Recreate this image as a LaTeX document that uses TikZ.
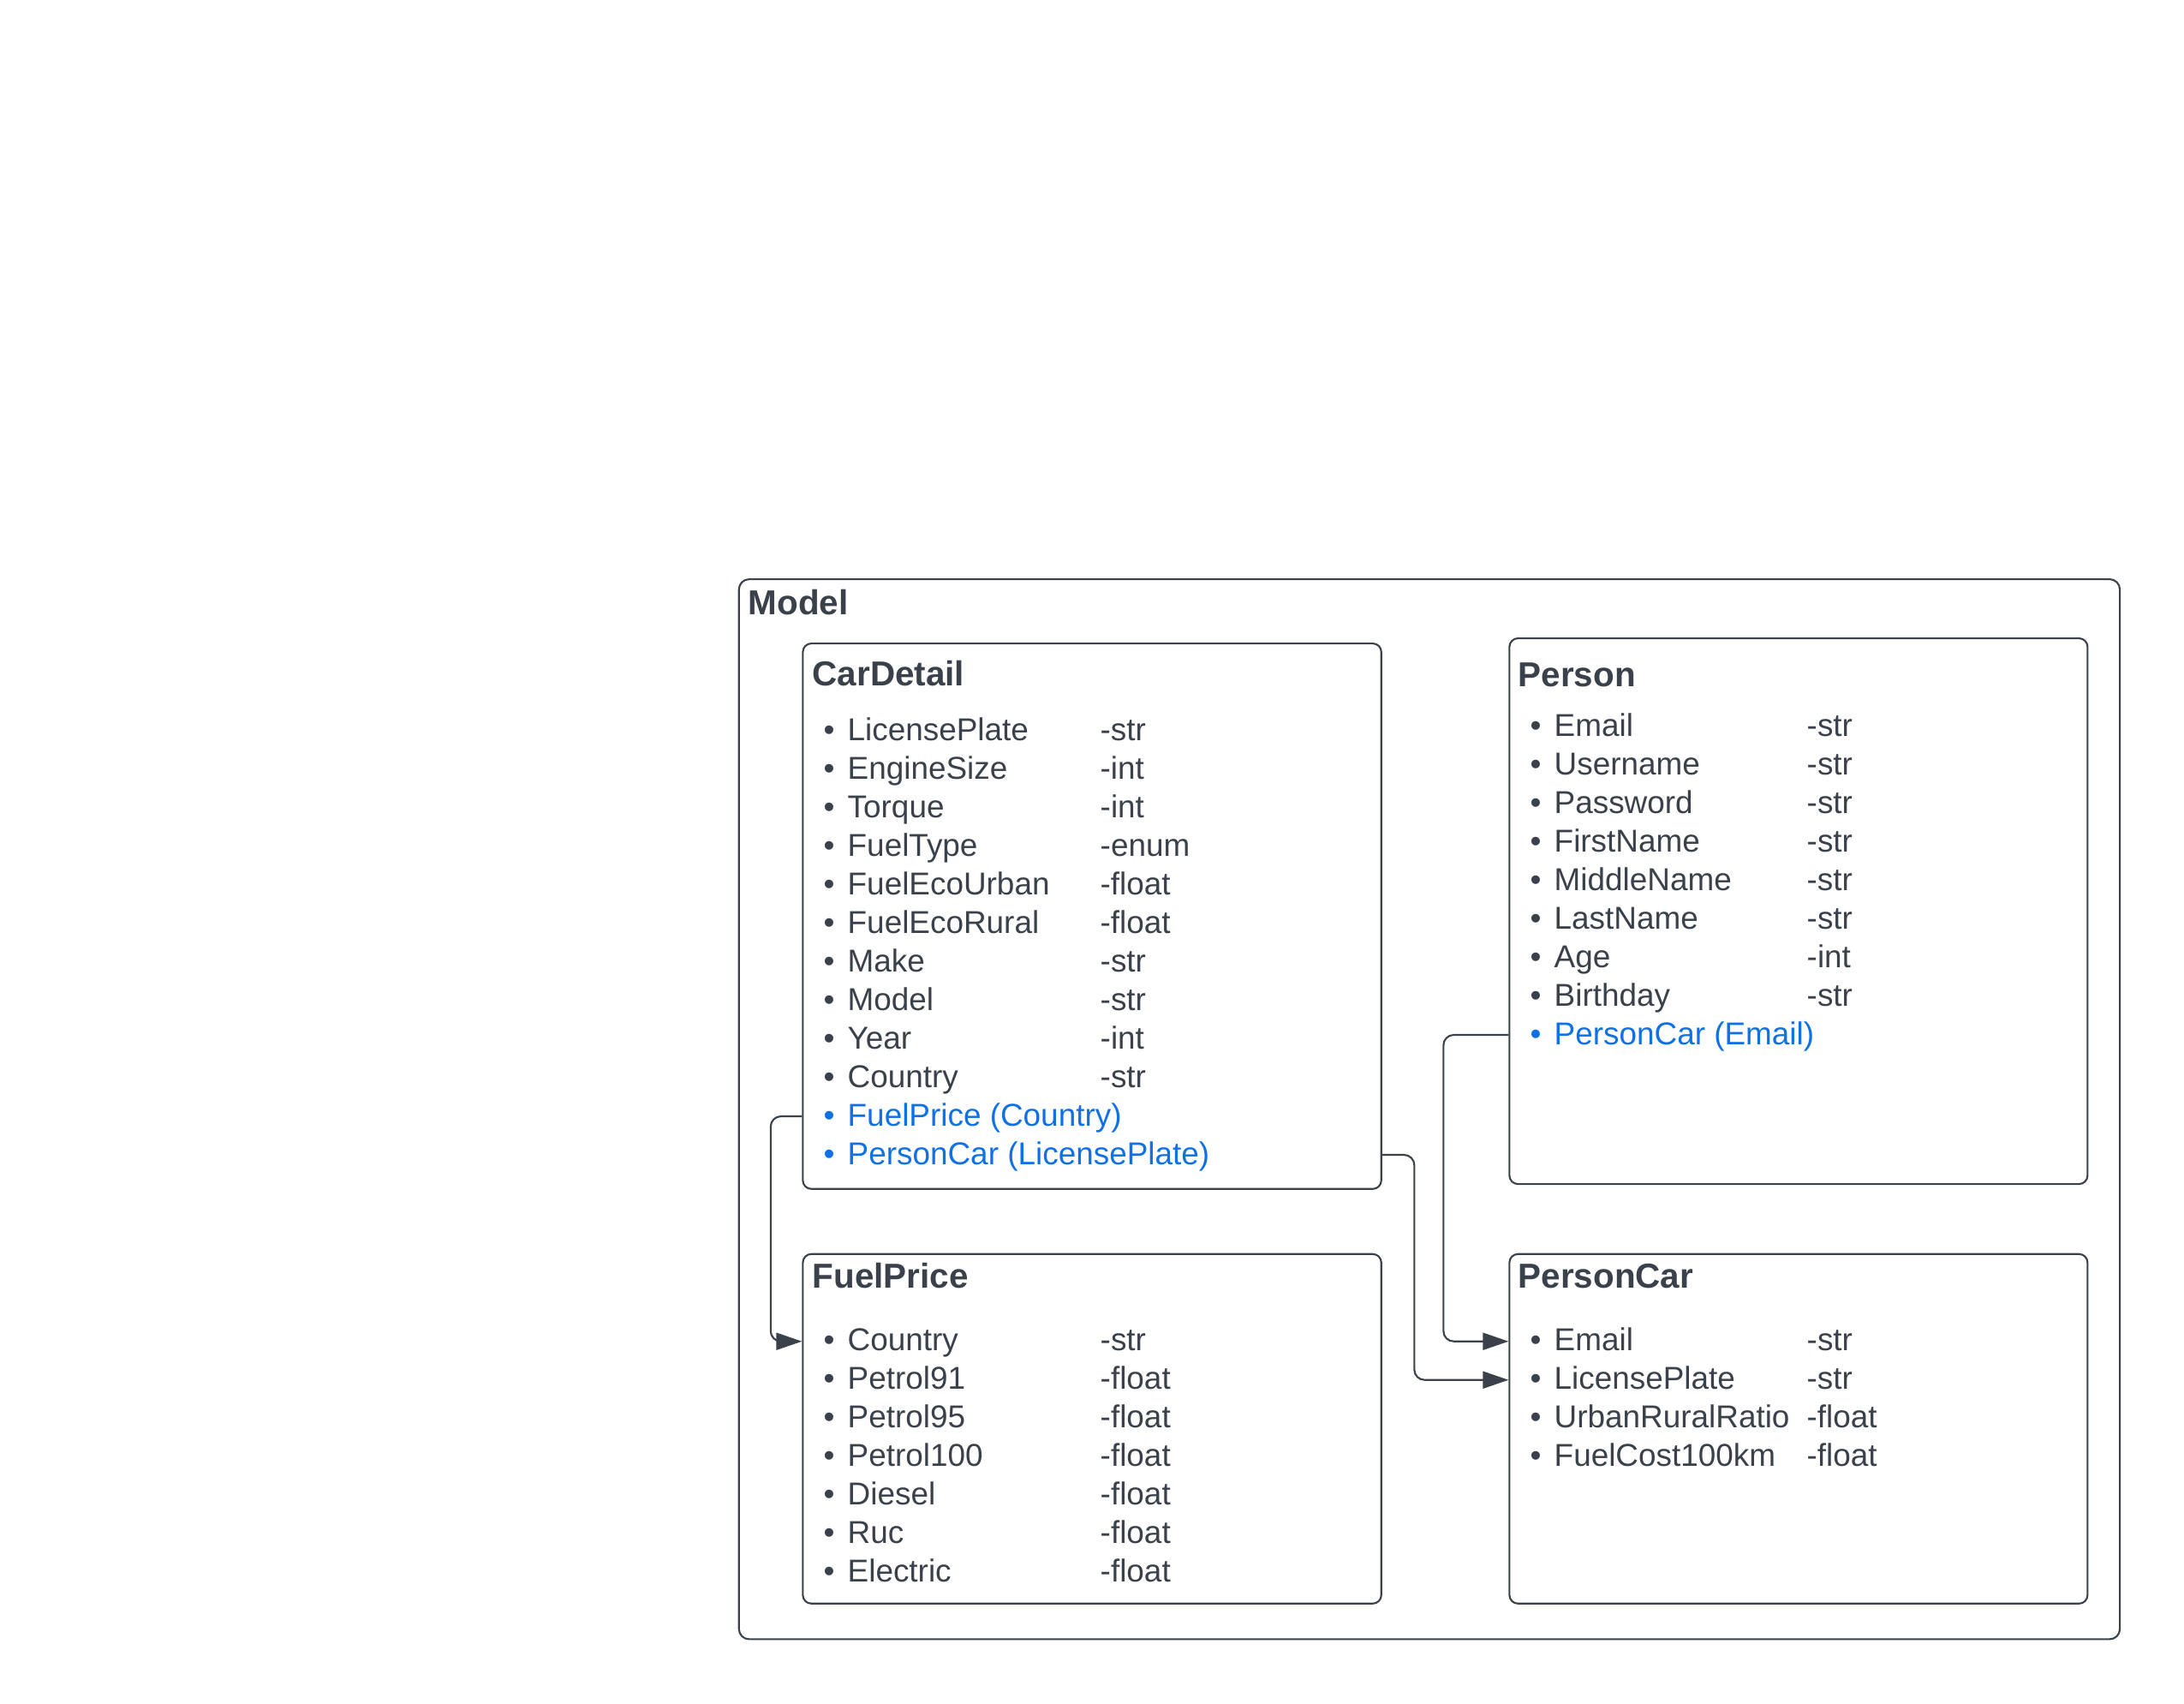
\documentclass[tikz,border=0pt]{standalone}
\usepackage{fontspec}
\setmainfont{Liberation Sans}
\usetikzlibrary{arrows.meta}

\definecolor{ink}{HTML}{3A414A}
\definecolor{linkblue}{HTML}{1071E5}

\newcommand{\itemdot}{\makebox[0.28cm][l]{•}}
\newcommand{\fieldrow}[2]{\itemdot\makebox[2.95cm][l]{#1}#2}

\begin{document}
\begin{tikzpicture}
			\tikzset{frame/.style = {draw=ink, line width=0.6pt, rounded corners=0.12cm,
					anchor=north west, inner sep=0pt}}
			\tikzset{entity/.style = {frame, rounded corners=0.1cm}}
			\tikzset{title/.style = {anchor=base west, inner sep=0pt, text=ink,
					font=\fontsize{11.5}{13}\selectfont\bfseries}}
			\tikzset{field/.style = {anchor=base west, inner sep=0pt, text=ink,
					text height=0.28cm, text depth=0.06cm,
					font=\fontsize{10.5}{12.6}\selectfont}}
			\tikzset{fk/.style = {field, text=linkblue}}
			\tikzset{edge/.style = {-{Triangle[length=0.3cm,width=0.2cm]}, draw=ink,
					line width=0.6pt, rounded corners=0.12cm}}

			\useasboundingbox (0,0) rectangle (25.5,-19.88);

			% boxes
			\node[frame, minimum width=16.123cm, minimum height=12.373cm] (model) at (8.617,-6.75) {};
			\node[entity, minimum width=6.754cm, minimum height=6.367cm] (cardetail) at (9.363,-7.50) {};
			\node[entity, minimum width=6.75cm, minimum height=6.37cm] (person) at (17.613,-7.44) {};
			\node[entity, minimum width=6.754cm, minimum height=4.08cm] (fuelprice) at (9.363,-14.627) {};
			\node[entity, minimum width=6.75cm, minimum height=4.08cm] (personcar) at (17.613,-14.627) {};

			\node[title] (modeltitle) at (8.73,-7.17) {Model};
			\node[title] (cdtitle) at (9.48,-8.00) {CarDetail};
			\node[title] (pstitle) at (17.72,-8.01) {Person};
			\node[title] (fptitle) at (9.48,-15.03) {FuelPrice};
			\node[title] (pctitle) at (17.72,-15.03) {PersonCar};

			% fields
			\foreach \fn/\ty [count=\i] in {LicensePlate/-str, EngineSize/-int, Torque/-int,
					FuelType/-enum, FuelEcoUrban/-float, FuelEcoRural/-float, Make/-str,
					Model/-str, Year/-int, Country/-str}
				\node[field] (cd\i) at (9.61,{-8.64-0.45*(\i-1)}) {\fieldrow{\fn}{\ty}};
			\node[fk] (cd11) at (9.61,-13.14) {\itemdot FuelPrice (Country)};
			\node[fk] (cd12) at (9.61,-13.59) {\itemdot PersonCar (LicensePlate)};

			\foreach \fn/\ty [count=\i] in {Email/-str, Username/-str, Password/-str,
					FirstName/-str, MiddleName/-str, LastName/-str, Age/-int, Birthday/-str}
				\node[field] (ps\i) at (17.86,{-8.59-0.45*(\i-1)}) {\fieldrow{\fn}{\ty}};
			\node[fk] (ps9) at (17.86,-12.19) {\itemdot PersonCar (Email)};

			\foreach \fn/\ty [count=\i] in {Country/-str, Petrol91/-float, Petrol95/-float,
					Petrol100/-float, Diesel/-float, Ruc/-float, Electric/-float}
				\node[field] (fp\i) at (9.61,{-15.767-0.45*(\i-1)}) {\fieldrow{\fn}{\ty}};

			\foreach \fn/\ty [count=\i] in {Email/-str, LicensePlate/-str,
					UrbanRuralRatio/-float, FuelCost100km/-float}
				\node[field] (pc\i) at (17.86,{-15.767-0.45*(\i-1)}) {\fieldrow{\fn}{\ty}};

			% edges
			\draw[edge] (cardetail.west |- cd11) -- ++(-0.365,0) |- (fuelprice.west |- fp1);
			\draw[edge] (cardetail.east |- cd12) -- ++(0.375,0) |- (personcar.west |- pc2);
			\draw[edge] (person.west |- ps9) -- ++(-0.76,0) |- (personcar.west |- pc1);

\end{tikzpicture}
\end{document}
